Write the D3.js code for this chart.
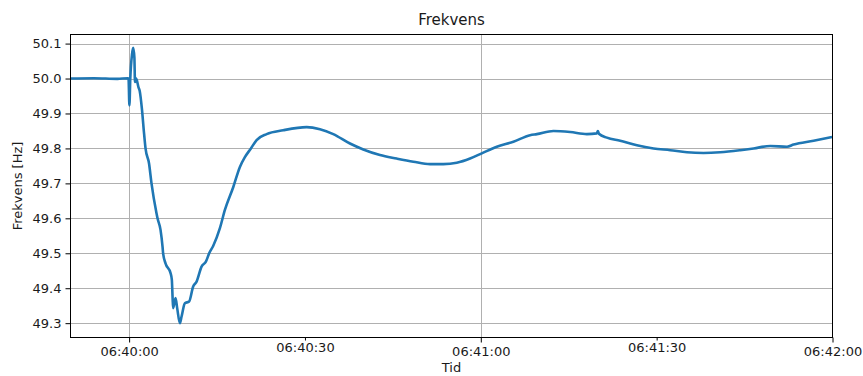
<!DOCTYPE html>
<html>
<head>
<meta charset="utf-8">
<script src="https://cdn.jsdelivr.net/npm/d3@7"></script>
<style>
  html, body { margin: 0; padding: 0; background: #fff; }
  svg { display: block; }
  text { font-family: "DejaVu Sans", sans-serif; fill: #1a1a1a; }
</style>
</head>
<body>
<svg id="chart" width="863" height="376"></svg>
<script>
// Grid frequency measurement, seconds relative to 06:40:00
const seconds = [
  -10.1, -6, -2, -0.2, -0.1, 0.05, 0.2, 0.5, 0.7, 0.9, 1.0, 1.2, 1.6, 1.8,
  2.2, 2.5, 2.8, 3.4, 3.82, 4.68, 4.85, 5.36, 5.70, 5.80, 6.21, 7.07, 7.29,
  7.41, 7.51, 7.92, 8.20, 8.66, 8.95, 9.51, 10.24, 10.93, 11.51, 12.36, 13.10,
  13.66, 14.34, 15.49, 16.34, 17.76, 18.90, 19.75, 20.78, 21.75, 23.46, 26.29,
  30.29, 32.56, 34.83, 37.68, 39.95, 42.80, 45.65, 48.49, 51.34, 53.61, 55.90,
  58.17, 60.17, 62.73, 65.56, 68.41, 69.56, 72.39, 75.24, 78.09, 79.80, 79.97,
  80.15, 81.51, 83.78, 86.63, 89.47, 92.32, 95.17, 98.00, 100.85, 104.27,
  106.54, 109.39, 112.24, 113.37, 116.78, 119.92
];
const frequency = [
  50.000, 50.001, 49.999, 50.001, 50.000, 49.923, 50.000, 50.070, 50.088, 50.060, 49.990, 50.000, 49.975, 49.965,
  49.910, 49.852, 49.800, 49.757, 49.700, 49.614, 49.600, 49.567, 49.519, 49.500, 49.471, 49.443, 49.424,
  49.376, 49.343, 49.372, 49.343, 49.300, 49.319, 49.357, 49.362, 49.405, 49.419, 49.462, 49.476,
  49.500, 49.521, 49.572, 49.624, 49.689, 49.747, 49.775, 49.800, 49.824, 49.841, 49.852,
  49.861, 49.855, 49.841, 49.814, 49.797, 49.781, 49.771, 49.762, 49.755, 49.755, 49.759,
  49.771, 49.786, 49.805, 49.819, 49.838, 49.841, 49.850, 49.847, 49.841, 49.843, 49.850,
  49.842, 49.831, 49.822, 49.809, 49.800, 49.795, 49.789, 49.787, 49.789, 49.795,
  49.800, 49.807, 49.805, 49.811, 49.822, 49.833
];
const yTicks = [49.3, 49.4, 49.5, 49.6, 49.7, 49.8, 49.9, 50.0, 50.1];
const majorTimes = ["06:40:00", "06:41:00", "06:42:00"];
const minorTimes = ["06:40:30", "06:41:30"];
const timeRange = ["06:39:50", "06:42:00"];
const titleText = "Frekvens";
const xLabel = "Tid";
const yLabel = "Frekvens [Hz]";
const yRange = [49.259, 50.126];

const parseTime = d3.timeParse("%H:%M:%S");
const base = parseTime("06:40:00");
const data = seconds.map((s, i) => ({ t: new Date(base.getTime() + s * 1000), v: frequency[i] }));

const margin = { left: 70.5, right: 863 - 832.5, top: 34.5, bottom: 376 - 337.5 };
const W = 863, H = 376;
const svg = d3.select("#chart");

const x = d3.scaleTime().domain(timeRange.map(parseTime)).range([margin.left, W - margin.right]);
const y = d3.scaleLinear().domain(yRange).range([H - margin.bottom, margin.top]);

// grid
const grid = svg.append("g").attr("stroke", "#b0b0b0").attr("stroke-width", 1);
grid.selectAll("line.h").data(yTicks).join("line")
  .attr("x1", margin.left).attr("x2", W - margin.right)
  .attr("y1", d => Math.round(y(d)) + 0.5).attr("y2", d => Math.round(y(d)) + 0.5);
grid.selectAll("line.v").data(majorTimes.slice(0, 2)).join("line")
  .attr("y1", margin.top).attr("y2", H - margin.bottom)
  .attr("x1", d => Math.round(x(parseTime(d))) + 0.5).attr("x2", d => Math.round(x(parseTime(d))) + 0.5);

// frequency trace
const clipId = "plotclip";
svg.append("clipPath").attr("id", clipId).append("rect")
  .attr("x", margin.left).attr("y", margin.top)
  .attr("width", W - margin.left - margin.right).attr("height", H - margin.top - margin.bottom);
svg.append("path").datum(data)
  .attr("clip-path", `url(#${clipId})`)
  .attr("fill", "none").attr("stroke", "#1f77b4").attr("stroke-width", 2.6)
  .attr("stroke-linejoin", "round")
  .attr("d", d3.line().x(d => x(d.t)).y(d => y(d.v)).curve(d3.curveMonotoneX));

// axes
const fmt = d3.timeFormat("%H:%M:%S");
const xAxisMajor = d3.axisBottom(x).tickValues(majorTimes.map(parseTime)).tickFormat(fmt)
  .tickSize(5).tickPadding(4);
const xAxisMinor = d3.axisBottom(x).tickValues(minorTimes.map(parseTime)).tickFormat(fmt)
  .tickSize(3).tickPadding(2);
const yAxis = d3.axisLeft(y).tickValues(yTicks).tickFormat(d3.format(".1f"))
  .tickSize(5).tickPadding(4);

function styleAxis(g) {
  g.select(".domain").remove();
  g.selectAll(".tick line").attr("stroke", "#000").attr("stroke-width", 1);
  g.selectAll(".tick text").attr("fill", "#1a1a1a").style("font-size", "13px")
    .style("font-family", "'DejaVu Sans', sans-serif");
}
svg.append("g").attr("transform", `translate(0,${H - margin.bottom})`).call(xAxisMajor).call(styleAxis);
svg.append("g").attr("transform", `translate(0,${H - margin.bottom})`).call(xAxisMinor).call(styleAxis);
svg.append("g").attr("transform", `translate(${margin.left},0)`).call(yAxis).call(styleAxis);

// frame
svg.append("rect")
  .attr("x", margin.left).attr("y", margin.top)
  .attr("width", W - margin.left - margin.right).attr("height", H - margin.top - margin.bottom)
  .attr("fill", "none").attr("stroke", "#000").attr("stroke-width", 1);

// titles
svg.append("text").attr("x", (margin.left + W - margin.right) / 2).attr("y", 25)
  .attr("text-anchor", "middle").style("font-size", "15px").text(titleText);
svg.append("text").attr("x", (margin.left + W - margin.right) / 2).attr("y", 372)
  .attr("text-anchor", "middle").style("font-size", "13px").text(xLabel);
svg.append("text").attr("transform", `translate(22,${(margin.top + H - margin.bottom) / 2}) rotate(-90)`)
  .attr("text-anchor", "middle").style("font-size", "13px").text(yLabel);
</script>
</body>
</html>
